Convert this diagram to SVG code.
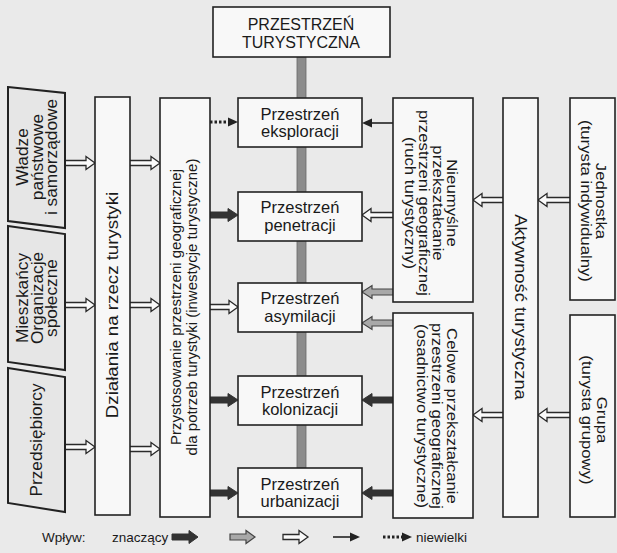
<svg xmlns="http://www.w3.org/2000/svg" width="617" height="553" viewBox="0 0 617 553">
<style>
.bg{fill:#eaeaea}
.box{fill:#f8f8f8;stroke:#222;stroke-width:1.6}
.lbox{fill:#e6e6e6;stroke:#222;stroke-width:2}
.t{font-family:"Liberation Sans",Arial,sans-serif;fill:#1a1a1a}
.ah{fill:#fafafa;stroke:#2a2a2a;stroke-width:1.3}
.ad{fill:#333;stroke:#333;stroke-width:1}
.ag{fill:#a8a8a8;stroke:#444;stroke-width:1.2}
.thin{stroke:#222;stroke-width:1.6;fill:none}
.dot{stroke:#222;stroke-width:3;stroke-dasharray:2.5 2;fill:none}
.head{fill:#222}
</style>
<rect class="bg" x="0" y="0" width="617" height="553"/>
<g id="connectors">
  <rect x="297" y="57" width="9" height="411" fill="#8c8c8c" stroke="#666" stroke-width="0.8"/>
  <path class="ah" d="M65 160.5 H86 V156.5 L95 163 L86 169.5 V165.5 H65"/>
  <path class="ah" d="M65 302.5 H86 V298.5 L95 305 L86 311.5 V307.5 H65"/>
  <path class="ah" d="M65 444.5 H86 V440.5 L95 447 L86 453.5 V449.5 H65"/>
  <path class="ah" d="M130 160.5 H151 V156.5 L160 163 L151 169.5 V165.5 H130"/>
  <path class="ah" d="M130 302.5 H151 V298.5 L160 305 L151 311.5 V307.5 H130"/>
  <path class="ah" d="M130 446.5 H151 V442.5 L160 449 L151 455.5 V451.5 H130"/>
  <line class="dot" x1="210" y1="122" x2="229" y2="122"/>
  <path class="head" d="M238 122 L228 117.5 L228 126.5 Z"/>
  <path class="ad" d="M210 212 H228 V208.5 L238 215 L228 221.5 V218 H210"/>
  <path class="ah" d="M210 304.5 H229 V300.5 L238 307 L229 313.5 V309.5 H210"/>
  <path class="ad" d="M210 397 H228 V393.5 L238 400 L228 406.5 V403 H210"/>
  <path class="ad" d="M210 490 H228 V486.5 L238 493 L228 499.5 V496 H210"/>
  <line class="thin" x1="393" y1="123" x2="371" y2="123"/>
  <path class="head" d="M362 123 L372 118.5 L372 127.5 Z"/>
  <path class="ah" d="M393 212.5 H371 V208.5 L362 215 L371 221.5 V217.5 H393"/>
  <path class="ag" d="M393 289 H372 V285.5 L362 292 L372 298.5 V295 H393"/>
  <path class="ag" d="M393 320 H372 V316.5 L362 323 L372 329.5 V326 H393"/>
  <path class="ad" d="M393 397 H372 V393.5 L362 400 L372 406.5 V403 H393"/>
  <path class="ad" d="M393 490 H372 V486.5 L362 493 L372 499.5 V496 H393"/>
  <path class="ah" d="M503 197.5 H482 V193.5 L473 200 L482 206.5 V202.5 H503"/>
  <path class="ah" d="M503 412.5 H482 V408.5 L473 415 L482 421.5 V417.5 H503"/>
  <path class="ah" d="M570 197.5 H547 V193.5 L538 200 L547 206.5 V202.5 H570"/>
  <path class="ah" d="M570 412.5 H547 V408.5 L538 415 L547 421.5 V417.5 H570"/>
</g>
<g id="n-wladze">
  <polygon class="lbox" points="8,87 65,93 65,228 8,221"/>
  <text class="t" font-size="16" text-anchor="middle" transform="translate(0,157) rotate(-90) scale(1.08,1)"><tspan x="0" y="28">Władze</tspan><tspan x="0" y="43">państwowe</tspan><tspan x="0" y="57">i samorządowe</tspan></text>
</g>
<g id="n-mieszkancy">
  <polygon class="lbox" points="8,226 65,234 65,370 8,362"/>
  <text class="t" font-size="16" text-anchor="middle" transform="translate(0,298) rotate(-90) scale(1.08,1)"><tspan x="0" y="28">Mieszkańcy</tspan><tspan x="0" y="43">Organizacje</tspan><tspan x="0" y="57">społeczne</tspan></text>
</g>
<g id="n-przedsiebiorcy">
  <polygon class="lbox" points="8,368 65,377 65,512 8,503"/>
  <text class="t" font-size="16" text-anchor="middle" transform="translate(0,440) rotate(-90) scale(1.08,1)"><tspan x="0" y="42">Przedsiębiorcy</tspan></text>
</g>
<g id="n-dzialania">
  <rect class="box" x="95" y="97" width="35" height="418"/>
  <text class="t" font-size="17" text-anchor="middle" transform="translate(0,305) rotate(-90) scale(1.1,1)"><tspan x="0" y="118">Działania na rzecz turystyki</tspan></text>
</g>
<g id="n-przystosowanie">
  <rect class="box" x="160" y="98" width="50" height="419"/>
  <text class="t" font-size="15" text-anchor="middle" transform="translate(0,307) rotate(-90)"><tspan x="0" y="181">Przystosowanie przestrzeni geograficznej</tspan><tspan x="0" y="197">dla potrzeb turystyki (inwestycje turystyczne)</tspan></text>
</g>
<g id="n-turystyczna">
  <rect class="box" x="213" y="7" width="177" height="50"/>
  <text class="t" font-size="16" text-anchor="middle"><tspan x="301" y="30">PRZESTRZEŃ</tspan><tspan x="301" y="48">TURYSTYCZNA</tspan></text>
</g>
<g id="n-eksploracji">
  <rect class="box" x="238" y="98" width="124" height="49"/>
  <text class="t" font-size="16.5" text-anchor="middle"><tspan x="300" y="119.5">Przestrzeń</tspan><tspan x="300" y="137">eksploracji</tspan></text>
</g>
<g id="n-penetracji">
  <rect class="box" x="238" y="192" width="124" height="49"/>
  <text class="t" font-size="16.5" text-anchor="middle"><tspan x="300" y="213">Przestrzeń</tspan><tspan x="300" y="230.5">penetracji</tspan></text>
</g>
<g id="n-asymilacji">
  <rect class="box" x="238" y="283" width="124" height="49"/>
  <text class="t" font-size="16.5" text-anchor="middle"><tspan x="300" y="304">Przestrzeń</tspan><tspan x="300" y="321.5">asymilacji</tspan></text>
</g>
<g id="n-kolonizacji">
  <rect class="box" x="238" y="376" width="124" height="49"/>
  <text class="t" font-size="16.5" text-anchor="middle"><tspan x="300" y="397.5">Przestrzeń</tspan><tspan x="300" y="415">kolonizacji</tspan></text>
</g>
<g id="n-urbanizacji">
  <rect class="box" x="238" y="468" width="124" height="49"/>
  <text class="t" font-size="16.5" text-anchor="middle"><tspan x="300" y="489.5">Przestrzeń</tspan><tspan x="300" y="507">urbanizacji</tspan></text>
</g>
<g id="n-nieumyslne">
  <rect class="box" x="393" y="98" width="80" height="204"/>
  <text class="t" font-size="15.5" text-anchor="middle" transform="translate(0,203) rotate(90) scale(1.08,1)"><tspan x="0" y="-447">Nieumyślne</tspan><tspan x="0" y="-433">przekształcanie</tspan><tspan x="0" y="-419">przestrzeni geograficznej</tspan><tspan x="0" y="-405">(ruch turystyczny)</tspan></text>
</g>
<g id="n-celowe">
  <rect class="box" x="393" y="313" width="80" height="205"/>
  <text class="t" font-size="15.5" text-anchor="middle" transform="translate(0,416) rotate(90) scale(1.08,1)"><tspan x="0" y="-447">Celowe przekształcanie</tspan><tspan x="0" y="-432">przestrzeni geograficznej</tspan><tspan x="0" y="-417">(osadnictwo turystyczne)</tspan></text>
</g>
<g id="n-aktywnosc">
  <rect class="box" x="503" y="98" width="35" height="419"/>
  <text class="t" font-size="17" text-anchor="middle" transform="translate(0,307) rotate(90) scale(1.08,1)"><tspan x="0" y="-515">Aktywność turystyczna</tspan></text>
</g>
<g id="n-jednostka">
  <rect class="box" x="570" y="98" width="45" height="202"/>
  <text class="t" font-size="15.5" text-anchor="middle" transform="translate(0,201) rotate(90) scale(1.08,1)"><tspan x="0" y="-596">Jednostka</tspan><tspan x="0" y="-581">(turysta indywidualny)</tspan></text>
</g>
<g id="n-grupa">
  <rect class="box" x="570" y="315" width="45" height="202"/>
  <text class="t" font-size="15.5" text-anchor="middle" transform="translate(0,420) rotate(90) scale(1.08,1)"><tspan x="0" y="-597">Grupa</tspan><tspan x="0" y="-582">(turysta grupowy)</tspan></text>
</g>
<g id="legend">
  <text class="t" font-size="13.5" x="42" y="542">Wpływ:</text>
  <text class="t" font-size="13.5" x="112" y="542">znaczący</text>
  <path class="ad" d="M172 534 H189 V530.5 L198 537 L189 543.5 V540 H172 Z"/>
  <path class="ag" d="M230 534 H246 V530.5 L255 537 L246 543.5 V540 H230 Z"/>
  <path class="ah" d="M283 534.5 H299 V530.5 L308 537 L299 543.5 V539.5 H283 Z"/>
  <line class="thin" x1="333" y1="537" x2="351" y2="537"/>
  <path class="head" d="M360 537 L350 532.5 L350 541.5 Z"/>
  <line class="dot" x1="383" y1="537" x2="403" y2="537"/>
  <path class="head" d="M412 537 L402 532.5 L402 541.5 Z"/>
  <text class="t" font-size="13.5" x="416" y="542">niewielki</text>
</g>
</svg>
